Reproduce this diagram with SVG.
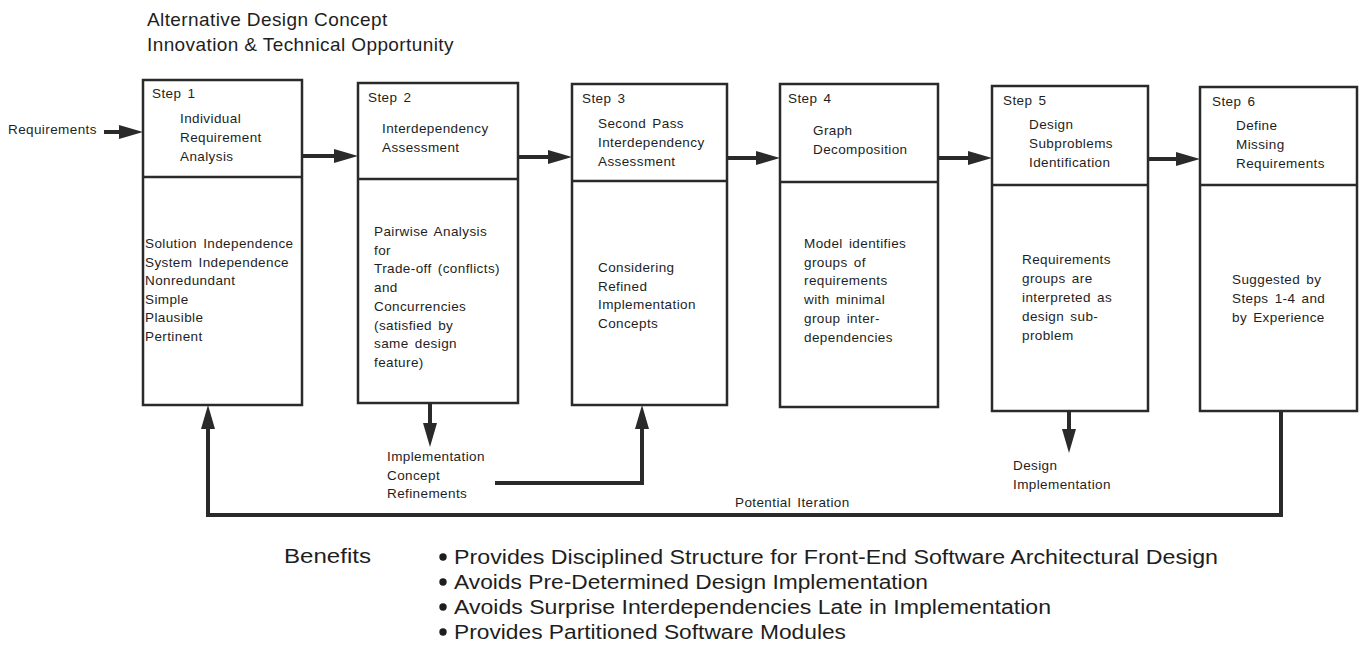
<svg xmlns="http://www.w3.org/2000/svg" width="1360" height="646" viewBox="0 0 1360 646">
  <style>
    .t { font-family: "Liberation Sans", Arial, sans-serif; font-size: 13.5px; fill: #1e1e1e; letter-spacing: 0.4px; word-spacing: 2px; }
    .title { font-family: "Liberation Sans", Arial, sans-serif; font-size: 19px; fill: #1e1e1e; letter-spacing: 0.4px; }
    .ben { font-family: "Liberation Sans", Arial, sans-serif; font-size: 20px; fill: #1e1e1e; }
    .box { fill: #fff; stroke: #2a2a2a; stroke-width: 2.5; }
    .div { stroke: #2a2a2a; stroke-width: 2.5; }
    .arrow { fill: none; stroke: #2a2a2a; stroke-width: 4; marker-end: url(#ah); }
  </style>
  <defs>
    <marker id="ah" markerUnits="userSpaceOnUse" markerWidth="24" markerHeight="14" refX="2" refY="7" orient="auto">
      <path d="M0,0 L24,7 L0,14 z" fill="#2a2a2a"/>
    </marker>
  </defs>
  <rect width="1360" height="646" fill="#fff"/>

  <!-- heading -->
  <g id="heading">
    <text class="title" x="147" y="26">Alternative Design Concept</text>
    <text class="title" x="147" y="51">Innovation &amp; Technical Opportunity</text>
  </g>

  <!-- input label -->
  <g id="input">
    <text class="t" x="8" y="134">Requirements</text>
  </g>

  <!-- Step 1 -->
  <g id="step1">
    <rect class="box" x="143" y="80" width="159" height="325"/>
    <line class="div" x1="143" y1="177" x2="302" y2="177"/>
    <text class="t" x="152" y="98">Step 1</text>
    <text class="t" x="180" y="123">Individual</text>
    <text class="t" x="180" y="142">Requirement</text>
    <text class="t" x="180" y="161">Analysis</text>
    <text class="t" x="145" y="248">Solution Independence</text>
    <text class="t" x="145" y="266.5">System Independence</text>
    <text class="t" x="145" y="285">Nonredundant</text>
    <text class="t" x="145" y="303.5">Simple</text>
    <text class="t" x="145" y="322">Plausible</text>
    <text class="t" x="145" y="340.5">Pertinent</text>
  </g>

  <!-- Step 2 -->
  <g id="step2">
    <rect class="box" x="358" y="83" width="160" height="320"/>
    <line class="div" x1="358" y1="179" x2="518" y2="179"/>
    <text class="t" x="368" y="102">Step 2</text>
    <text class="t" x="382" y="133">Interdependency</text>
    <text class="t" x="382" y="152">Assessment</text>
    <text class="t" x="374" y="236">Pairwise Analysis</text>
    <text class="t" x="374" y="254.7">for</text>
    <text class="t" x="374" y="273.4">Trade-off (conflicts)</text>
    <text class="t" x="374" y="292.1">and</text>
    <text class="t" x="374" y="310.8">Concurrencies</text>
    <text class="t" x="374" y="329.5">(satisfied by</text>
    <text class="t" x="374" y="348.2">same design</text>
    <text class="t" x="374" y="366.9">feature)</text>
  </g>

  <!-- Step 3 -->
  <g id="step3">
    <rect class="box" x="572" y="84" width="155" height="321"/>
    <line class="div" x1="572" y1="181" x2="727" y2="181"/>
    <text class="t" x="582" y="103">Step 3</text>
    <text class="t" x="598" y="128">Second Pass</text>
    <text class="t" x="598" y="147">Interdependency</text>
    <text class="t" x="598" y="166">Assessment</text>
    <text class="t" x="598" y="272">Considering</text>
    <text class="t" x="598" y="290.7">Refined</text>
    <text class="t" x="598" y="309.4">Implementation</text>
    <text class="t" x="598" y="328.1">Concepts</text>
  </g>

  <!-- Step 4 -->
  <g id="step4">
    <rect class="box" x="780" y="84" width="158" height="323"/>
    <line class="div" x1="780" y1="182" x2="938" y2="182"/>
    <text class="t" x="788" y="103">Step 4</text>
    <text class="t" x="813" y="135">Graph</text>
    <text class="t" x="813" y="154">Decomposition</text>
    <text class="t" x="804" y="248">Model identifies</text>
    <text class="t" x="804" y="266.7">groups of</text>
    <text class="t" x="804" y="285.4">requirements</text>
    <text class="t" x="804" y="304.1">with minimal</text>
    <text class="t" x="804" y="322.8">group inter-</text>
    <text class="t" x="804" y="341.5">dependencies</text>
  </g>

  <!-- Step 5 -->
  <g id="step5">
    <rect class="box" x="992" y="86" width="156" height="325"/>
    <line class="div" x1="992" y1="185" x2="1148" y2="185"/>
    <text class="t" x="1003" y="105">Step 5</text>
    <text class="t" x="1029" y="129">Design</text>
    <text class="t" x="1029" y="148">Subproblems</text>
    <text class="t" x="1029" y="167">Identification</text>
    <text class="t" x="1022" y="264">Requirements</text>
    <text class="t" x="1022" y="283">groups are</text>
    <text class="t" x="1022" y="302">interpreted as</text>
    <text class="t" x="1022" y="321">design sub-</text>
    <text class="t" x="1022" y="340">problem</text>
  </g>

  <!-- Step 6 -->
  <g id="step6">
    <rect class="box" x="1200" y="87" width="157" height="324"/>
    <line class="div" x1="1200" y1="185" x2="1357" y2="185"/>
    <text class="t" x="1212" y="106">Step 6</text>
    <text class="t" x="1236" y="130">Define</text>
    <text class="t" x="1236" y="149">Missing</text>
    <text class="t" x="1236" y="168">Requirements</text>
    <text class="t" x="1232" y="284">Suggested by</text>
    <text class="t" x="1232" y="303">Steps 1-4 and</text>
    <text class="t" x="1232" y="322">by Experience</text>
  </g>

  <!-- side outputs -->
  <g id="refinements">
    <text class="t" x="387" y="461">Implementation</text>
    <text class="t" x="387" y="480">Concept</text>
    <text class="t" x="387" y="498">Refinements</text>
  </g>
  <g id="design-impl">
    <text class="t" x="1013" y="470">Design</text>
    <text class="t" x="1013" y="489">Implementation</text>
  </g>
  <g id="iteration-label">
    <text class="t" x="735" y="507">Potential Iteration</text>
  </g>

  <!-- connectors -->
  <g id="connectors">
    <line class="arrow" x1="104" y1="132" x2="121" y2="132"/>
    <line class="arrow" x1="302" y1="156" x2="336" y2="156"/>
    <line class="arrow" x1="518" y1="157" x2="550" y2="157"/>
    <line class="arrow" x1="727" y1="158" x2="758" y2="158"/>
    <line class="arrow" x1="938" y1="158" x2="970" y2="158"/>
    <line class="arrow" x1="1148" y1="159" x2="1178" y2="159"/>
    <line class="arrow" x1="430" y1="403" x2="430" y2="425"/>
    <line class="arrow" x1="1069" y1="411" x2="1069" y2="431"/>
    <polyline class="arrow" points="495,483 642,483 642,427"/>
    <polyline class="arrow" points="1281,411 1281,515 208,515 208,427"/>
  </g>

  <!-- benefits list -->
  <g id="benefits">
    <text class="ben" x="284" y="563" textLength="87" lengthAdjust="spacingAndGlyphs">Benefits</text>
    <circle cx="443" cy="557" r="3.7" fill="#1e1e1e"/>
    <circle cx="443" cy="582" r="3.7" fill="#1e1e1e"/>
    <circle cx="443" cy="607" r="3.7" fill="#1e1e1e"/>
    <circle cx="443" cy="632" r="3.7" fill="#1e1e1e"/>
    <text class="ben" x="454" y="564" textLength="764" lengthAdjust="spacingAndGlyphs">Provides Disciplined Structure for Front-End Software Architectural Design</text>
    <text class="ben" x="454" y="589" textLength="474" lengthAdjust="spacingAndGlyphs">Avoids Pre-Determined Design Implementation</text>
    <text class="ben" x="454" y="614" textLength="597" lengthAdjust="spacingAndGlyphs">Avoids Surprise Interdependencies Late in Implementation</text>
    <text class="ben" x="454" y="639" textLength="392" lengthAdjust="spacingAndGlyphs">Provides Partitioned Software Modules</text>
  </g>
</svg>
